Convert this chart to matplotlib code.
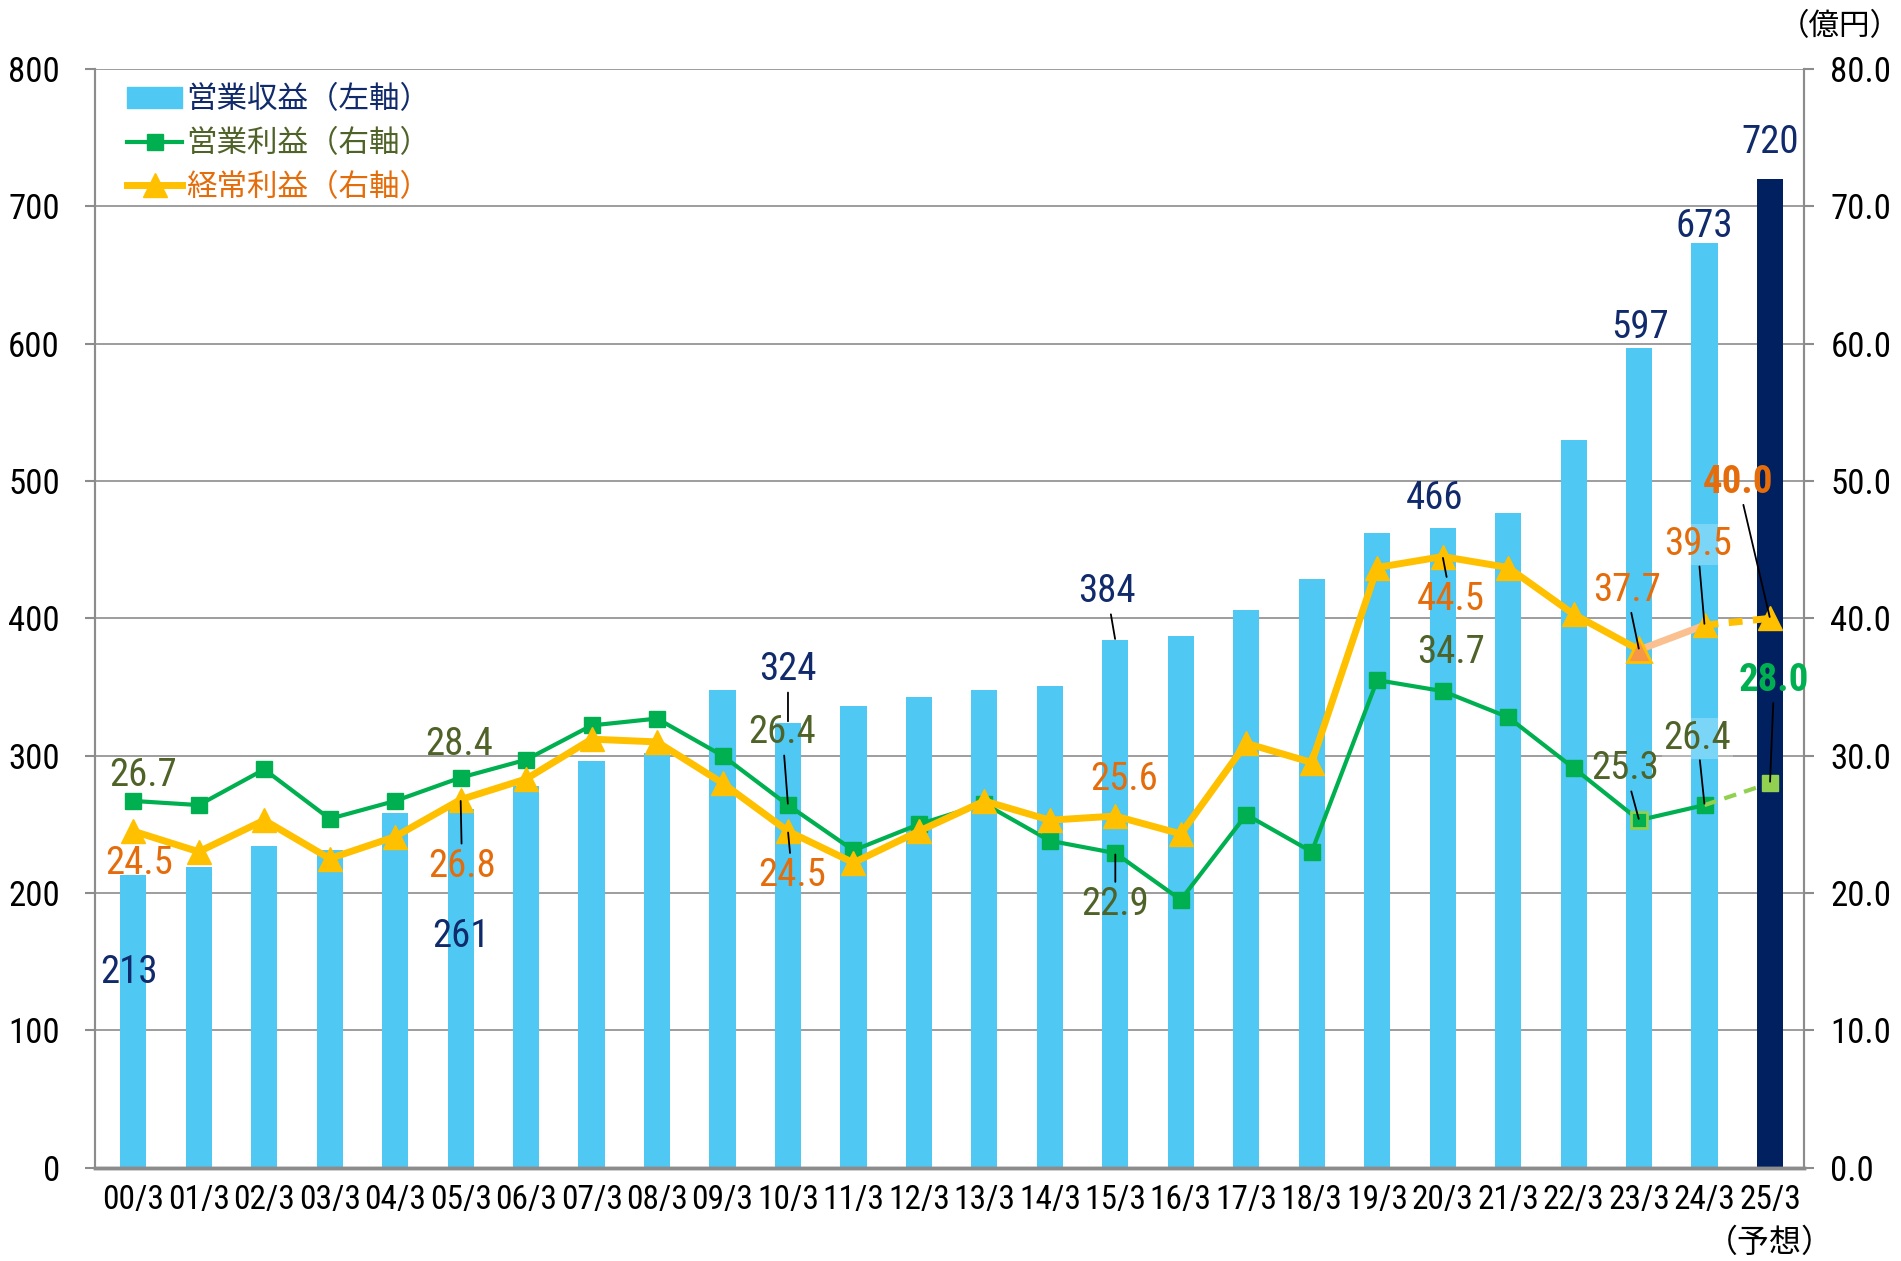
import matplotlib
matplotlib.use("Agg")
import matplotlib.pyplot as plt
from matplotlib.patches import Patch
from matplotlib.lines import Line2D
from matplotlib.transforms import blended_transform_factory

# data
years = ["00/3", "01/3", "02/3", "03/3", "04/3", "05/3", "06/3", "07/3", "08/3", "09/3",
         "10/3", "11/3", "12/3", "13/3", "14/3", "15/3", "16/3", "17/3", "18/3", "19/3",
         "20/3", "21/3", "22/3", "23/3", "24/3", "25/3"]
revenue = [213, 219, 234, 231, 258, 261, 278, 296, 302, 348,
           324, 336, 343, 348, 351, 384, 387, 406, 429, 462,
           466, 477, 530, 597, 673, 720]
op_profit = [26.7, 26.4, 29.0, 25.4, 26.7, 28.4, 29.7, 32.2, 32.7, 30.0,
             26.4, 23.1, 25.0, 26.5, 23.8, 22.9, 19.5, 25.7, 23.0, 35.5,
             34.7, 32.8, 29.1, 25.3, 26.4, 28.0]
ord_profit = [24.5, 23.0, 25.3, 22.5, 24.1, 26.8, 28.3, 31.2, 31.0, 28.0,
              24.5, 22.2, 24.5, 26.7, 25.3, 25.6, 24.3, 30.9, 29.5, 43.7,
              44.5, 43.7, 40.3, 37.7, 39.5, 40.0]

# which points get a value label: (index, dx, dy in points, leader line)
rev_labels = [(0, -3, -70, False), (5, 0, -92, False), (10, 0, 38, True), (15, -6, 35, True),
              (20, -6, 21, False), (23, 1, 15, False), (24, 0, 12, False), (25, 0, 26, False)]
op_labels = [(0, 7, 18, False), (5, -1, 24, False), (10, -4, 52, True), (15, 0, -37, True),
             (20, 6, 28, False), (23, -10, 37, True), (24, -5, 48, True), (25, 3, 74, True)]
ord_labels = [(0, 4, -23, False), (5, 1, -48, True), (10, 3, -32, True), (15, 6, 26, False),
              (20, 6, -31, True), (23, -9, 43, True), (24, -5, 58, True), (25, -23, 98, True)]

bar_c = "#4FC8F4"
fc_c = "#002060"
green = "#00B050"
yellow = "#FFC000"
light_green = "#92D050"
peach = "#FAC090"
navy_txt = "#102A6B"
olive = "#4F6228"
orange = "#E46C0A"
grid_c = "#8C8C8C"

num_font = ["Roboto Condensed", "DejaVu Sans"]
jp_font = ["Noto Sans CJK JP", "DejaVu Sans"]

fig = plt.figure(figsize=(19.01, 12.61), dpi=100)
ax = fig.add_axes([0.0498, 0.0741, 0.8992, 0.8711])
ax2 = ax.twinx()

x = list(range(len(years)))
colors = [bar_c] * (len(years) - 1) + [fc_c]
ax.bar(x, revenue, width=0.4, color=colors, zorder=2)
ax.set_axisbelow(True)
ax.set_ylim(0, 800)
ax.set_yticks(range(0, 801, 100))
ax.grid(axis="y", color=grid_c, lw=1.2)
ax.set_xlim(-0.59, 25.52)
ax.set_xticks(x)
ax.set_xticklabels(years, fontsize=24, family=num_font)

ax2.set_ylim(0, 80)
ax2.set_yticks(range(0, 81, 10))
ax2.set_yticklabels([f"{v:.1f}" for v in range(0, 81, 10)])

# operating profit (green)
ax2.plot(x[:25], op_profit[:25], color=green, lw=3, marker="s", ms=11, zorder=3)
ax2.plot(x[24:], op_profit[24:], color=light_green, lw=3, ls=(0, (3, 2)), zorder=3)
ax2.plot([x[23]], [op_profit[23]], marker="s", ms=11, color=green, mec=light_green, mew=2, zorder=4)
ax2.plot([x[25]], [op_profit[25]], marker="s", ms=11, color=light_green, zorder=4)

# ordinary profit (yellow)
ax2.plot(x[:24], ord_profit[:24], color=yellow, lw=5, zorder=3)
ax2.plot(x[23:25], ord_profit[23:25], color=peach, lw=5, zorder=3)
ax2.plot(x[24:], ord_profit[24:], color=yellow, lw=5, ls=(0, (2, 1.5)), zorder=3)
ax2.plot(x, ord_profit, ls="none", marker="^", ms=17, color=yellow, zorder=4)
ax2.plot([x[23]], [ord_profit[23]], ls="none", marker="^", ms=17, color="#F79646", mec=yellow, mew=2, zorder=5)

for a in (ax, ax2):
    a.spines["top"].set_visible(False)
    for s in ("left", "right", "bottom"):
        a.spines[s].set_color(grid_c)
    a.spines["left"].set_linewidth(1.5)
    a.spines["right"].set_linewidth(1.5)
    a.spines["bottom"].set_linewidth(2.5)
ax.tick_params(axis="x", length=0, pad=12)
ax.tick_params(axis="y", length=7, width=1.5, color=grid_c, pad=18, labelsize=25)
ax2.tick_params(axis="y", length=7, width=1.5, color=grid_c, pad=12, labelsize=25)
for t in ax.get_yticklabels() + ax2.get_yticklabels():
    t.set_family(num_font)


def put_labels(specs, values, trans, color, fmt, bold_last=None, boxed=()):
    for i, dx, dy, leader in specs:
        kw = {}
        if leader:
            kw["arrowprops"] = dict(arrowstyle="-", color="black", lw=1.3, shrinkA=1, shrinkB=1)
        c = color
        weight = "normal"
        if bold_last is not None and i == len(values) - 1:
            c = bold_last
            weight = "bold"
        bbox = None
        if i in boxed:
            bbox = dict(boxstyle="square,pad=0.05", fc="white", ec="none", alpha=0.25)
        ax2.annotate(fmt.format(values[i]), xy=(i, values[i]), xycoords=trans,
                     xytext=(dx, dy), textcoords="offset points", ha="center", va="center",
                     fontsize=28, family=num_font, color=c, fontweight=weight,
                     bbox=bbox, zorder=6, **kw)


put_labels(rev_labels, revenue, ax.transData, navy_txt, "{:d}")
put_labels(op_labels, op_profit, ax2.transData, olive, "{:.1f}", bold_last=green, boxed=(24,))
put_labels(ord_labels, ord_profit, ax2.transData, orange, "{:.1f}", bold_last=orange, boxed=(24,))

handles = [
    Patch(color=bar_c),
    Line2D([], [], color=green, lw=3, marker="s", ms=11),
    Line2D([], [], color=yellow, lw=5, marker="^", ms=17),
]
names = ["営業収益（左軸）", "営業利益（右軸）", "経常利益（右軸）"]
leg = ax2.legend(handles, names, loc="upper left", bbox_to_anchor=(0.01, 1.0),
                 frameon=False, prop={"family": jp_font, "size": 22},
                 labelcolor=[navy_txt, olive, orange], handlelength=1.8,
                 handletextpad=0.15, labelspacing=0.42, borderaxespad=0.1)
leg.set_zorder(7)

ax2.text(1.021, 1.039, "（億円）", transform=ax2.transAxes, ha="center", va="center",
         fontsize=22, family=jp_font, color="black")
tr = blended_transform_factory(ax.transData, ax.transAxes)
ax.text(25, -0.069, "（予想）", transform=tr, ha="center", va="center",
        fontsize=23, family=jp_font, color="black")

fig.savefig("out.png", dpi=100)
